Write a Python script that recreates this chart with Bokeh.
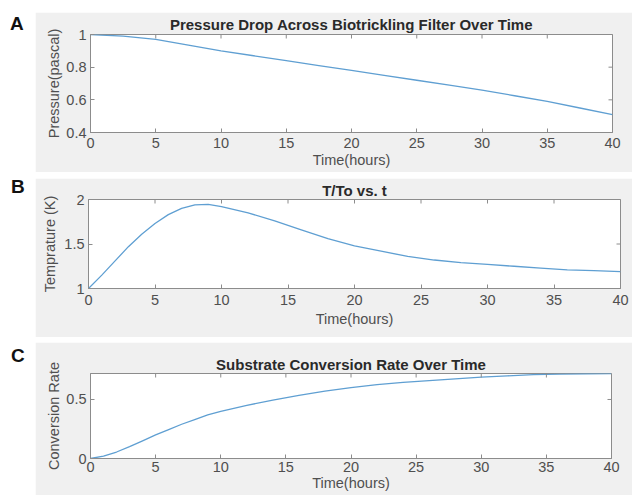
import math
from bokeh.plotting import figure
from bokeh.models import Range1d, FixedTicker, Div
from bokeh.layouts import row, column
from bokeh.embed import file_html
from bokeh.resources import INLINE

# ---- data ----
t_a = [0, 2.5, 5, 7.5, 10, 12.5, 15, 17.5, 20, 22.5, 25, 27.5, 30, 32.5, 35, 37.5, 40]
pressure = [1.0, 0.99, 0.97, 0.935, 0.90, 0.87, 0.84, 0.81, 0.78, 0.75, 0.72, 0.69, 0.66, 0.625, 0.59, 0.55, 0.51]

t_b = [0, 1, 2, 3, 4, 5, 6, 7, 8, 9, 10, 12, 14, 16, 18, 20, 22, 24, 26, 28, 30, 32, 34, 36, 38, 40]
temp_ratio = [1.0, 1.15, 1.31, 1.47, 1.61, 1.73, 1.83, 1.90, 1.94, 1.945, 1.92, 1.85, 1.76, 1.66, 1.56, 1.48,
              1.42, 1.36, 1.32, 1.29, 1.27, 1.25, 1.23, 1.21, 1.20, 1.19]

t_c = [0, 1, 2, 3, 4, 5, 6, 7, 8, 9, 10, 12, 14, 16, 18, 20, 22, 24, 26, 28, 30, 32, 34, 36, 38, 40]
conversion = [0.0, 0.02, 0.055, 0.10, 0.15, 0.20, 0.245, 0.29, 0.33, 0.37, 0.40, 0.45, 0.495, 0.535, 0.57,
              0.60, 0.625, 0.645, 0.66, 0.675, 0.69, 0.70, 0.71, 0.715, 0.718, 0.72]

x_lim = [0, 40]
x_ticks = [0, 5, 10, 15, 20, 25, 30, 35, 40]
a_ylim = [0.4, 1.0]
a_yticks = [0.4, 0.6, 0.8, 1.0]
a_ylabels = ["0.4", "0.6", "0.8", "1"]
b_ylim = [1.0, 2.0]
b_yticks = [1.0, 1.5, 2.0]
b_ylabels = ["1", "1.5", "2"]
c_ylim = [0.0, 0.72]
c_yticks = [0.0, 0.5]
c_ylabels = ["0", "0.5"]

GRAY = "#f0f0f0"
AXC = "#8c8c8c"
TXT = "#4f4f4f"
LINE = "#5f9fd2"
FONT = "Liberation Sans"
LABEL_W = 35
FIG_W = 597


def panel(title, x, y, ylim, yticks, ylabels, ylabel, h, mb_top, mb_bottom, mb_left, mb_right,
          title_standoff, tick_standoff, label_standoff, ylabel_standoff):
    p = figure(width=FIG_W, height=h, output_backend="svg", toolbar_location=None,
               x_range=Range1d(*x_lim), y_range=Range1d(*ylim),
               min_border_top=mb_top, min_border_bottom=mb_bottom,
               min_border_left=mb_left, min_border_right=mb_right,
               border_fill_color=GRAY, background_fill_color="white",
               outline_line_color=AXC, outline_line_width=1, sizing_mode="fixed", margin=0)
    p.grid.visible = False
    p.title.text = title
    p.title.align = "center"
    p.title.text_font = FONT
    p.title.text_font_size = "15px"
    p.title.text_font_style = "bold"
    p.title.text_color = "#2a2a2a"
    p.title.standoff = title_standoff
    p.title.offset = 0

    p.line(x, y, line_color=LINE, line_width=1.3)

    # MATLAB box ticks on top and right edges (inward, clipped to the frame)
    p.scatter(x_ticks, [ylim[1]] * len(x_ticks), marker="dash", angle=math.pi / 2,
              size=8, line_color=AXC, line_width=1)
    p.scatter([x_lim[1]] * len(yticks), yticks, marker="dash", angle=0,
              size=8, line_color=AXC, line_width=1)

    xa = p.xaxis[0]
    xa.ticker = FixedTicker(ticks=x_ticks)
    xa.axis_label = "Time(hours)"
    xa.major_label_standoff = tick_standoff
    xa.axis_label_standoff = label_standoff
    ya = p.yaxis[0]
    ya.ticker = FixedTicker(ticks=yticks)
    ya.major_label_overrides = {v: s for v, s in zip(yticks, ylabels)}
    ya.axis_label = ylabel
    ya.major_label_standoff = 4
    ya.axis_label_standoff = ylabel_standoff
    for ax in (xa, ya):
        ax.axis_line_color = AXC
        ax.major_tick_line_color = AXC
        ax.major_tick_in = 4
        ax.major_tick_out = 0
        ax.minor_tick_line_color = None
        ax.major_label_text_font = FONT
        ax.major_label_text_font_size = "14.5px"
        ax.major_label_text_color = TXT
        ax.axis_label_text_font = FONT
        ax.axis_label_text_font_size = "14.5px"
        ax.axis_label_text_font_style = "normal"
        ax.axis_label_text_color = TXT
    return p


def label(ch, h, pad_top, pad_left):
    html = (f'<div style="padding:{pad_top}px 0 0 {pad_left}px; font-family:\'Liberation Sans\'; '
            f'font-weight:bold; font-size:19px; line-height:12px; color:#111111;">{ch}</div>')
    return Div(text=html, width=LABEL_W, height=h, sizing_mode="fixed", margin=0)


def gap(h):
    return Div(text="", width=LABEL_W + FIG_W, height=h, sizing_mode="fixed", margin=0)


H_A, H_B, H_C = 160, 159, 153

pa = panel("Pressure Drop Across Biotrickling Filter Over Time", t_a, pressure, a_ylim,
           a_yticks, a_ylabels, "Pressure(pascal)", H_A, 20, 40, 55, 20, 3, 5, 1, 1)
pb = panel("T/To vs. t", t_b, temp_ratio, b_ylim,
           b_yticks, b_ylabels, "Temprature (K)", H_B, 21, 49, 53, 12, 1, 6, 3, 3)
pc = panel("Substrate Conversion Rate Over Time", t_c, conversion, c_ylim,
           c_yticks, c_ylabels, "Conversion Rate", H_C, 31, 37, 55, 21, 2, 3, 0, 1)

layout = column(
    gap(12),
    row(label("A", H_A, 6, 10), pa, spacing=0, sizing_mode="fixed", margin=0),
    gap(6),
    row(label("B", H_B, 3, 11), pb, spacing=0, sizing_mode="fixed", margin=0),
    gap(5),
    row(label("C", H_C, 8, 11), pc, spacing=0, sizing_mode="fixed", margin=0),
    spacing=0, sizing_mode="fixed", margin=0,
)

open("out.html", "w").write(file_html(layout, INLINE))
